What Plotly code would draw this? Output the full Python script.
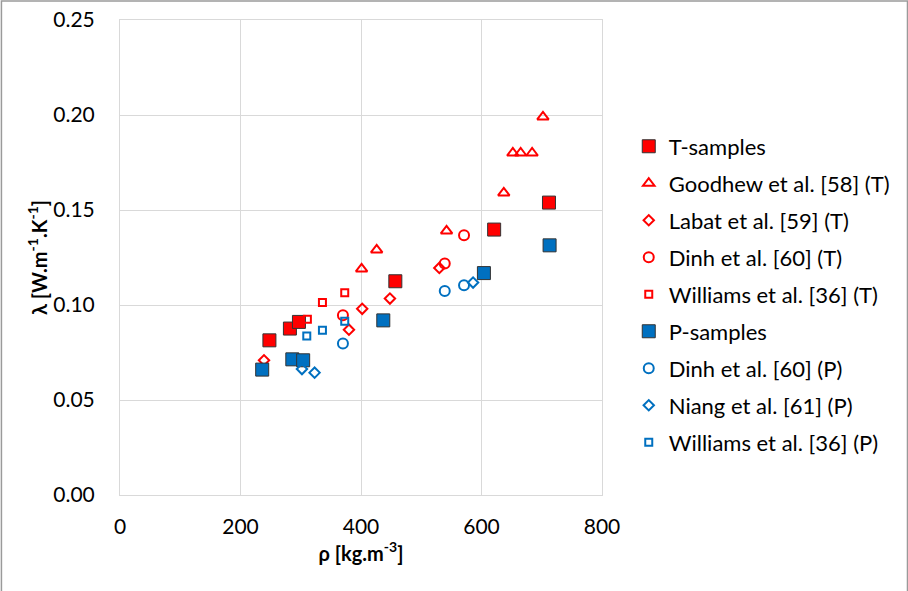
import plotly.graph_objects as go

# ---- data ----
t_samples_rho = [248, 282, 297, 457, 621, 712]
t_samples_lam = [0.0814, 0.0876, 0.0911, 0.1125, 0.1397, 0.1539]

goodhew_rho = [401, 426, 542, 637, 652, 665, 684, 702]
goodhew_lam = [0.119, 0.129, 0.139, 0.159, 0.180, 0.180, 0.180, 0.199]

labat_rho = [239, 380, 402, 448, 530]
labat_lam = [0.0709, 0.0870, 0.0980, 0.1034, 0.1195]

dinh_t_rho = [370, 539, 571]
dinh_t_lam = [0.0946, 0.1218, 0.1367]

williams_t_rho = [311, 336, 373]
williams_t_lam = [0.0925, 0.1013, 0.1065]

p_samples_rho = [236, 286, 304, 437, 604, 713]
p_samples_lam = [0.0660, 0.0714, 0.0709, 0.0919, 0.1168, 0.1314]

dinh_p_rho = [370, 539, 571]
dinh_p_lam = [0.0797, 0.1074, 0.1104]

niang_rho = [302, 323, 586]
niang_lam = [0.0663, 0.0644, 0.1118]

williams_p_rho = [310, 336, 373]
williams_p_lam = [0.0837, 0.0867, 0.0914]

x_ticks = [0, 200, 400, 600, 800]
y_ticks = [0.00, 0.05, 0.10, 0.15, 0.20, 0.25]

RED = "#FF0000"
BLUE = "#0070C0"
FONT = "Lato"

fig = go.Figure()

def add(name, x, y, symbol, color, size, filled, group):
    if filled:
        marker = dict(symbol=symbol, size=size, color=color,
                      line=dict(color="#333333", width=1))
    else:
        marker = dict(symbol=symbol + "-open", size=size, color=color,
                      line=dict(color=color, width=2))
    fig.add_trace(go.Scatter(x=x, y=y, mode="markers", name=name,
                             marker=marker, legendgroup=group))

add("T-samples", t_samples_rho, t_samples_lam, "square", RED, 13, True, "g1")
add("Goodhew et al. [58] (T)", goodhew_rho, goodhew_lam, "triangle-up", RED, 10, False, "g2")
add("Labat et al. [59] (T)", labat_rho, labat_lam, "diamond", RED, 8, False, "g3")
add("Dinh et al. [60] (T)", dinh_t_rho, dinh_t_lam, "circle", RED, 10, False, "g4")
add("Williams et al. [36] (T)", williams_t_rho, williams_t_lam, "square", RED, 7, False, "g5")
add("P-samples", p_samples_rho, p_samples_lam, "square", BLUE, 13, True, "g6")
add("Dinh et al. [60] (P)", dinh_p_rho, dinh_p_lam, "circle", BLUE, 10, False, "g7")
add("Niang et al. [61] (P)", niang_rho, niang_lam, "diamond", BLUE, 8, False, "g8")
add("Williams et al. [36] (P)", williams_p_rho, williams_p_lam, "square", BLUE, 7, False, "g9")

GRID = "#D9D9D9"
fig.update_layout(
    width=908, height=591,
    margin=dict(l=120, r=306, t=20, b=96, autoexpand=False),
    paper_bgcolor="white", plot_bgcolor="white",
    font=dict(family=FONT, size=21, color="#000000"),
    showlegend=True,
    legend=dict(x=1.0555, y=0.778, xanchor="left", yanchor="top",
                tracegroupgap=5.4, font=dict(size=22, family=FONT),
                bgcolor="rgba(0,0,0,0)", itemsizing="trace"),
    xaxis=dict(range=[0, 800], tickvals=x_ticks, ticktext=[str(v) for v in x_ticks],
               showgrid=True, gridcolor=GRID, gridwidth=1, zeroline=False,
               showline=True, linecolor=GRID, mirror=True, automargin=False,
               ticks="outside", ticklen=13, tickcolor="rgba(0,0,0,0)",
               tickfont=dict(size=21, family=FONT),
               title=dict(text="<b>ρ [kg.m<sup>-3</sup>]</b>", standoff=4,
                          font=dict(size=20, family=FONT))),
    yaxis=dict(range=[0, 0.25], tickvals=y_ticks, ticktext=[f"{v:.2f}" for v in y_ticks],
               showgrid=True, gridcolor=GRID, gridwidth=1, zeroline=False,
               showline=True, linecolor=GRID, mirror=True, automargin=False,
               ticks="outside", ticklen=20, tickcolor="rgba(0,0,0,0)",
               tickfont=dict(size=21, family=FONT),
               title=dict(text="<b>λ [W.m<sup>-1</sup>.K<sup>-1</sup>]</b>", standoff=0,
                          font=dict(size=20, family=FONT))),
)

# outer chart-area border
fig.add_shape(type="rect", xref="paper", yref="paper",
              x0=(1.5 - 120) / 481.7, x1=(907 - 120) / 481.7,
              y0=(494.7 - 592) / 475, y1=(494.7 - 0.8) / 475,
              line=dict(color="#9A9A9A", width=1.5), fillcolor="rgba(0,0,0,0)",
              layer="below")

fig.write_html("out.html", config={"displayModeBar": False},
               post_script="document.body.style.margin='0';document.body.style.overflow='hidden';")
